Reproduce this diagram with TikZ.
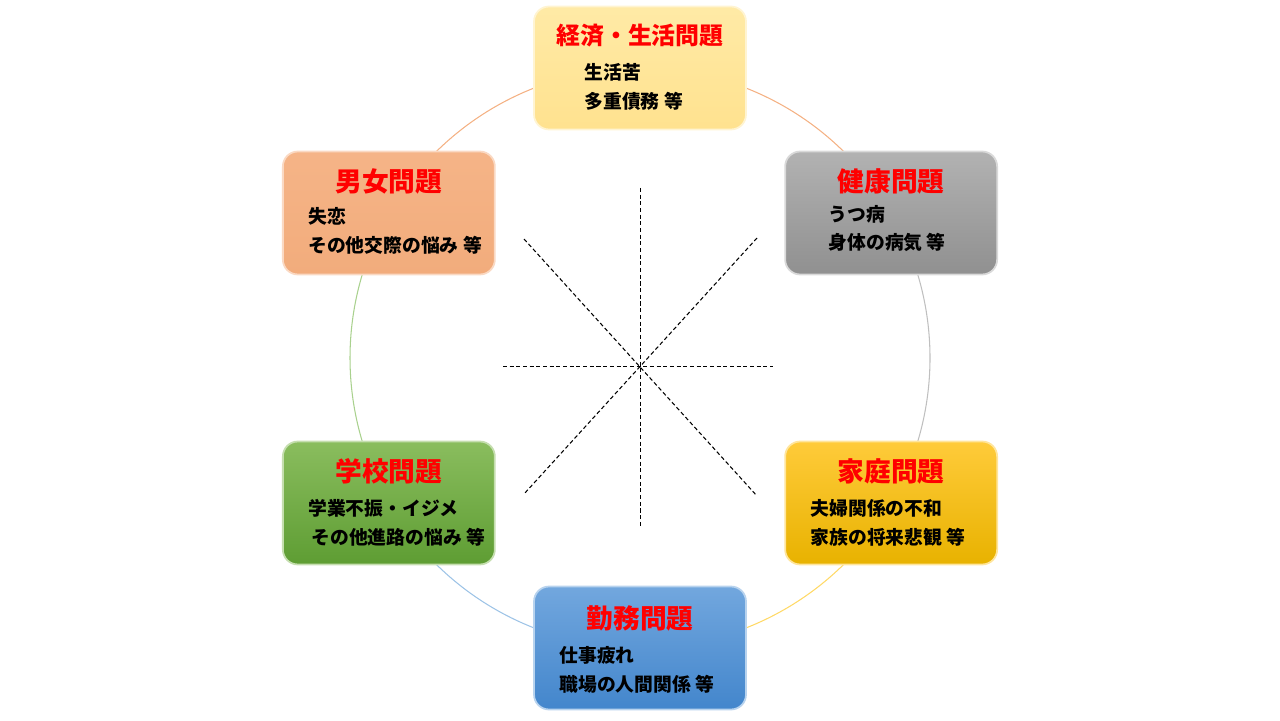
\documentclass[tikz,border=0pt]{standalone}
\usepackage{fontspec}
\setmainfont{Noto Sans CJK JP}
\usepackage{xcolor}
\usetikzlibrary{calc}
\definecolor{keizaitop}{HTML}{FFEAA6}
\definecolor{keizaibot}{HTML}{FFE28F}
\definecolor{kenkotop}{HTML}{B2B2B2}
\definecolor{kenkobot}{HTML}{909090}
\definecolor{kateitop}{HTML}{FFCB3A}
\definecolor{kateibot}{HTML}{E8B200}
\definecolor{kinmutop}{HTML}{72A7DE}
\definecolor{kinmubot}{HTML}{4386CC}
\definecolor{gakkotop}{HTML}{8ABD5E}
\definecolor{gakkobot}{HTML}{5E9D33}
\definecolor{danjotop}{HTML}{F5B487}
\definecolor{danjobot}{HTML}{F2AC7C}
\definecolor{arcorange}{HTML}{F4B183}
\definecolor{arcgray}{HTML}{BFBFBF}
\definecolor{arcgold}{HTML}{FFD966}
\definecolor{arcblue}{HTML}{9DC3E6}
\definecolor{arcgreen}{HTML}{A9D18E}
\tikzset{
  probbox/.style   = {rectangle, rounded corners=8.5pt, minimum width=4.24cm,
                      minimum height=2.46cm, line width=1pt, inner sep=0pt},
  probtitle/.style = {font=\fontsize{15.2}{18}\selectfont\bfseries, text=red,
                      inner sep=0pt},
  probbody/.style  = {font=\fontsize{10.7}{16.4}\selectfont\bfseries, align=left,
                      inner sep=0pt, anchor=west},
  probarc/.style   = {line width=0.6pt},
  probspoke/.style = {draw=black, line width=0.6pt, dash pattern=on 2.3pt off 1.5pt},
}
\begin{document}
\begin{tikzpicture}[x=0.02cm, y=0.02cm]
  \useasboundingbox (0,0) rectangle (1280,720);
  \coordinate (ring) at (640,362);

  % ring segments between the boxes
  \draw[probarc, draw=arcorange] ($(ring)+(90:290)$)   arc[start angle=90,   end angle=30,   radius=290];
  \draw[probarc, draw=arcgray]   ($(ring)+(30:290)$)   arc[start angle=30,   end angle=-30,  radius=290];
  \draw[probarc, draw=arcgold]   ($(ring)+(-30:290)$)  arc[start angle=-30,  end angle=-90,  radius=290];
  \draw[probarc, draw=arcblue]   ($(ring)+(-90:290)$)  arc[start angle=-90,  end angle=-150, radius=290];
  \draw[probarc, draw=arcgreen]  ($(ring)+(-150:290)$) arc[start angle=-150, end angle=-210, radius=290];
  \draw[probarc, draw=arcorange] ($(ring)+(150:290)$)  arc[start angle=150,  end angle=90,   radius=290];

  % dashed spokes
  \coordinate (sN)  at (640.5,532);
  \coordinate (sS)  at (640.5,192);
  \coordinate (sW)  at (503,353.5);
  \coordinate (sE)  at (773,353.5);
  \coordinate (sNW) at (524,481);
  \coordinate (sSE) at (757,224);
  \coordinate (sNE) at (757,482);
  \coordinate (sSW) at (524,226);
  \draw[probspoke] (sN) -- (sS);
  \draw[probspoke] (sW) -- (sE);
  \draw[probspoke] (sNW) -- (sSE);
  \draw[probspoke] (sNE) -- (sSW);

  % the six problem boxes
  \node[probbox, top color=keizaitop, bottom color=keizaibot, draw=keizaitop!50!white]
        (keizai) at ($(ring)+(90:290)$) {};
  \node[probbox, top color=kenkotop, bottom color=kenkobot, draw=kenkotop!50!white]
        (kenko)  at ($(ring)+(30:290)$) {};
  \node[probbox, top color=kateitop, bottom color=kateibot, draw=kateitop!50!white]
        (katei)  at ($(ring)+(-30:290)$) {};
  \node[probbox, top color=kinmutop, bottom color=kinmubot, draw=kinmutop!50!white]
        (kinmu)  at ($(ring)+(-90:290)$) {};
  \node[probbox, top color=gakkotop, bottom color=gakkobot, draw=gakkotop!50!white]
        (gakko)  at ($(ring)+(-150:290)$) {};
  \node[probbox, top color=danjotop, bottom color=danjobot, draw=danjotop!50!white]
        (danjo)  at ($(ring)+(150:290)$) {};

  \node[probtitle, font=\fontsize{13.6}{16}\selectfont\bfseries]
                   (keizaiT) at ($(keizai.north)+(0,-30)$) {経済・生活問題};
  \node[probbody]  (keizaiB) at ($(keizai.north west)+(51,-81.5)$) {生活苦\\多重債務 等};
  \node[probtitle] (kenkoT)  at ($(kenko.north)+(0,-31)$) {健康問題};
  \node[probbody]  (kenkoB)  at ($(kenko.north west)+(44,-78)$) {うつ病\\身体の病気 等};
  \node[probtitle] (kateiT)  at ($(katei.north)+(0,-31)$) {家庭問題};
  \node[probbody]  (kateiB)  at ($(katei.north west)+(26,-82)$) {夫婦関係の不和\\家族の将来悲観 等};
  \node[probtitle] (kinmuT)  at ($(kinmu.north)+(0,-33)$) {勤務問題};
  \node[probbody]  (kinmuB)  at ($(kinmu.north west)+(26,-84)$) {仕事疲れ\\職場の人間関係 等};
  \node[probtitle] (gakkoT)  at ($(gakko.north)+(0,-31)$) {学校問題};
  \node[probbody]  (gakkoB)  at ($(gakko.north west)+(26,-82)$) {学業不振・イジメ\\\,その他進路の悩み 等};
  \node[probtitle] (danjoT)  at ($(danjo.north)+(0,-31)$) {男女問題};
  \node[probbody]  (danjoB)  at ($(danjo.north west)+(26,-80)$) {失恋\\その他交際の悩み 等};
\end{tikzpicture}
\end{document}
